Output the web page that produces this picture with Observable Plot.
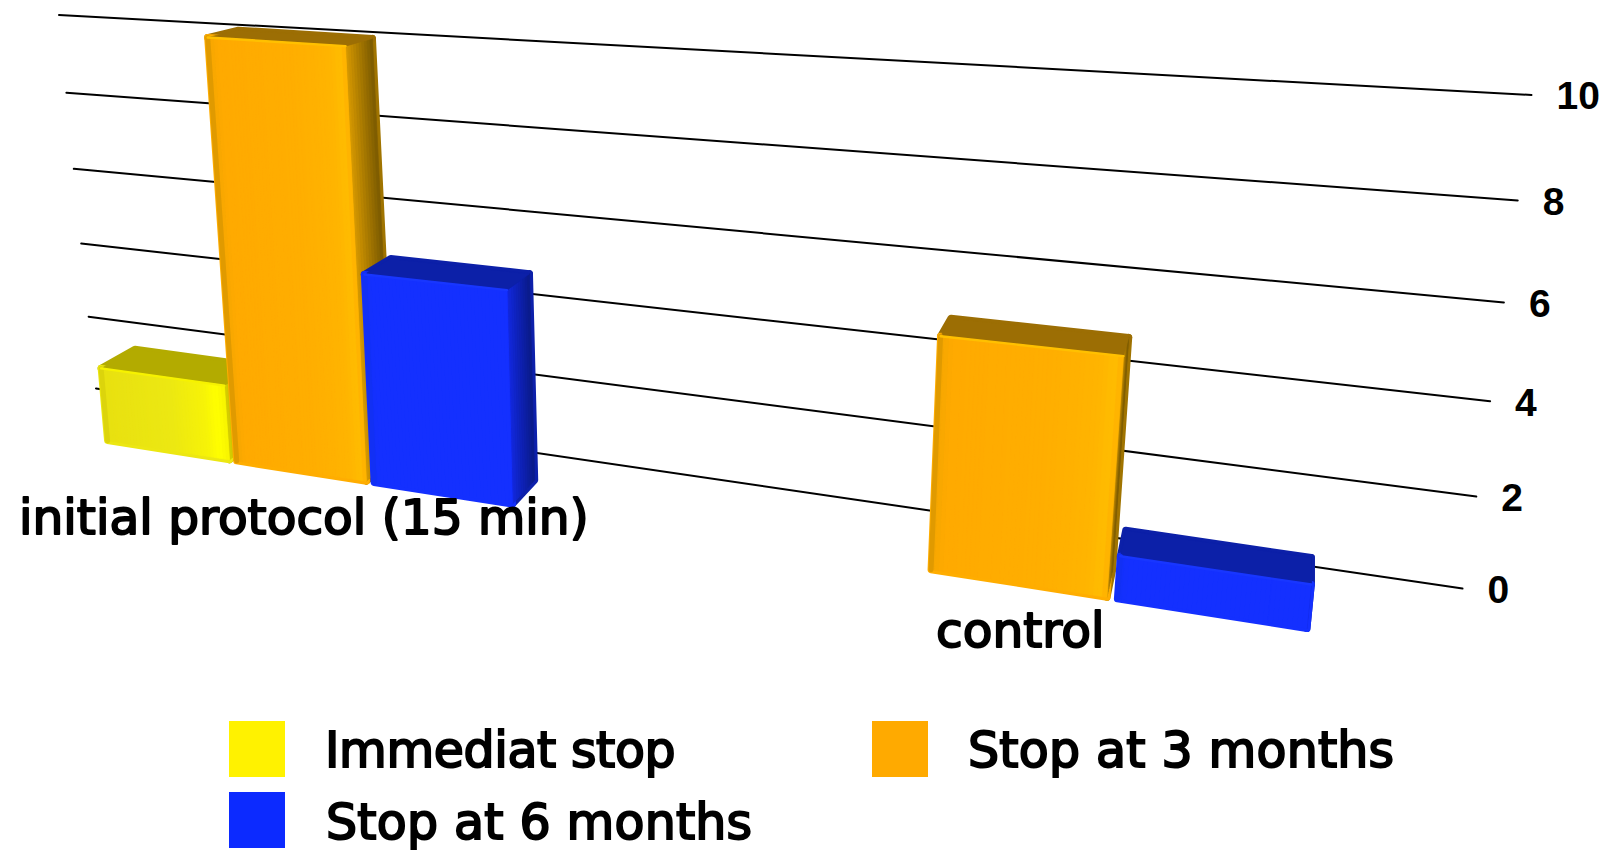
<!DOCTYPE html>
<html>
<head>
<meta charset="utf-8">
<script src="https://cdn.jsdelivr.net/npm/d3@7"></script>
<script src="https://cdn.jsdelivr.net/npm/@observablehq/plot@0.6"></script>
<style>
  html, body { margin: 0; padding: 0; background: #fff; }
  #chart svg { display: block; }
  #legend { position: relative; width: 1611px; height: 142px; font: 49px "DejaVu Sans", sans-serif; letter-spacing: 0.2px; color: #000; -webkit-text-stroke: 2px #000; }
  #legend .swatch { position: absolute; width: 56px; height: 56px; }
  #legend .name { position: absolute; line-height: 56px; white-space: nowrap; }
</style>
</head>
<body>
<div id="chart"></div>
<div id="legend"></div>
<script>
// Values of the clustered bars, one array per series, one entry per group.
const groups = ["initial protocol (15 min)", "control"];
const seriesNames = ["Immediat stop", "Stop at 3 months", "Stop at 6 months"];
const immediatStop = [2.05, null];
const stopAt3Months = [10.85, 5.3];
const stopAt6Months = [5.27, 1.08];
const ticks = [0, 2, 4, 6, 8, 10];

const seriesValues = [immediatStop, stopAt3Months, stopAt6Months];
const groupStart = [0, 4.49];

const W = 1611, H = 710;

// Perspective of the front plane of the bars: a = slot position along the
// category axis, v = value, d = 0 at the front face and 1 at the back face.
const baseX = a => 104 + 125 * a / (1 - 0.03 * a);
const baseY = x => 443.5 + 0.1575 * (x - 107);
function project(a, v, d = 0) {
  const bx = baseX(a);
  const h = v * (38.5 + 0.0085 * (bx - 100));
  let x = bx + (bx - 672) * 0.0001575 * h;
  let y = baseY(bx) - h;
  x += d * (42 - 0.032 * x);
  y -= d * (7 + 0.041 * y);
  return [x, y];
}

// Perspective of the back wall carrying the gridlines.
const wallLeft = v => [95.5 - 3.7 * v, 388 - 35.5 * v - 0.185 * v * v];
const wallRight = v => [1462 + 6.9 * v, 588 - 45.16 * v - 0.419 * v * v];

const palette = [
  {
    front: [[0, "#e8e010"], [0.55, "#ece812"], [0.82, "#f6f208"], [0.93, "#ffff00"], [1, "#f8f400"]],
    top: "#b3ab00", side: ["#d8d000", "#8f8800"], edge: "#f6f200", leftEdge: "#dcd40c"
  },
  {
    front: [[0, "#f4a600"], [0.08, "#ffaa00"], [0.6, "#ffae00"], [0.88, "#ffb400"], [0.96, "#ffbc00"], [1, "#ffb000"]],
    top: "#9c6e04", side: ["#d89a00", "#7a5a00"], edge: "#ffc000", leftEdge: "#e09a00"
  },
  {
    front: [[0, "#1230f8"], [0.05, "#1430ff"], [1, "#1430ff"]],
    top: "#0c20a8", side: ["#1228e0", "#0a1a88"], edge: "#1836ff", leftEdge: "#1230f4"
  }
];

function ramp(stops, t) {
  for (let i = 1; i < stops.length; ++i) {
    if (t <= stops[i][0]) {
      const k = (t - stops[i - 1][0]) / (stops[i][0] - stops[i - 1][0]);
      return d3.interpolateRgb(stops[i - 1][1], stops[i][1])(k);
    }
  }
  return stops[stops.length - 1][1];
}

// One closed polygon as rows for Plot.line, grouped by id.
function polygon(id, color, corners) {
  return [...corners, corners[0]].map(([x, y]) => ({ id, color, x, y }));
}

const colorIdentity = { x: "x", y: "y", z: "id", fill: "color", stroke: "color", strokeLinejoin: "round" };

function edgeLine(p, q, color, width) {
  return Plot.line([p, q].map(([x, y]) => ({ x, y })), {
    x: "x", y: "y", stroke: color, strokeWidth: width, strokeLinecap: "round"
  });
}

function barMarks(g, s) {
  const value = seriesValues[s][g];
  if (value == null) return [];
  const style = palette[s];
  const padA = 0.027, padV = 0.088, padD = 0.13;
  const a0 = groupStart[g] + s + padA, a1 = groupStart[g] + s + 1 - padA;
  const v0 = padV, v1 = value - padV, d1 = 1 - padD;
  const key = `${g}-${s}`;

  const base = [
    ...polygon(`${key}-side`, d3.interpolateRgb(...style.side)(0.6),
      [project(a1, v1), project(a1, v1, d1), project(a1, v0, d1), project(a1, v0)]),
    ...polygon(`${key}-top`, style.top,
      [project(a0, v1), project(a0, v1, d1), project(a1, v1, d1), project(a1, v1)]),
    ...polygon(`${key}-front`, ramp(style.front, 0.5),
      [project(a0, v1), project(a1, v1), project(a1, v0), project(a0, v0)])
  ];

  const bands = [];
  const sideBands = 10;
  for (let i = 0; i < sideBands; ++i) {
    const t0 = i / sideBands, t1 = (i + 1) / sideBands;
    bands.push(...polygon(`${key}-sb${i}`, d3.interpolateRgb(...style.side)((t0 + t1) / 2), [
      project(a1, v1, t1 * d1), project(a1, v0, t1 * d1), project(a1, v0, t0 * d1), project(a1, v1, t0 * d1)
    ]));
  }
  // The top face goes back over the side bands so the side stops at the edge.
  bands.push(...polygon(`${key}-top2`, style.top,
    [project(a0, v1), project(a0, v1, d1), project(a1, v1, d1), project(a1, v1)]));
  const frontBands = 40;
  for (let i = 0; i < frontBands; ++i) {
    const t0 = i / frontBands, t1 = (i + 1) / frontBands;
    const p = t => a0 + (a1 - a0) * t;
    bands.push(...polygon(`${key}-fb${i}`, ramp(style.front, (t0 + t1) / 2), [
      project(p(t0), v1), project(p(t1), v1), project(p(t1), v0), project(p(t0), v0)
    ]));
  }

  return [
    Plot.line(base, { ...colorIdentity, strokeWidth: 7 }),
    Plot.line(bands, { ...colorIdentity, strokeWidth: 0.7 }),
    edgeLine(project(a0, v1), project(a0, v0), style.leftEdge, 5),
    edgeLine(project(a0, v1), project(a1, v1), style.edge, 2.4)
  ];
}

const gridRows = ticks.flatMap(v => [wallLeft(v), wallRight(v)].map(([x, y]) => ({ v, x, y })));
const tickRows = ticks.map(v => {
  const [x, y] = wallRight(v);
  return { label: String(v), x: x + 25, y: y + 2 };
});
const groupRows = groups.map((name, g) => {
  const bx = baseX(groupStart[g] + 1.5);
  return { name, x: bx + 3, y: baseY(bx) + 44 };
});

const bars = groups.flatMap((_, g) => seriesNames.flatMap((_, s) => barMarks(g, s)));

const chart = Plot.plot({
  width: W,
  height: H,
  margin: 0,
  style: { background: "#fff" },
  x: { domain: [0, W], range: [0, W], axis: null },
  y: { domain: [0, H], range: [0, H], axis: null },
  color: { type: "identity" },
  marks: [
    Plot.line(gridRows, { x: "x", y: "y", z: "v", stroke: "#000", strokeWidth: 2 }),
    ...bars,
    Plot.text(tickRows, {
      x: "x", y: "y", text: "label", textAnchor: "start", lineAnchor: "middle",
      fontFamily: "Liberation Sans", fontWeight: "bold", fontSize: 39, fill: "#000"
    }),
    Plot.text(groupRows, {
      x: "x", y: "y", text: "name", textAnchor: "middle", lineAnchor: "middle",
      fontFamily: "DejaVu Sans", fontSize: 48.6, fill: "#000", stroke: "#000", strokeWidth: 2, strokeLinejoin: "round"
    })
  ]
});
document.getElementById("chart").append(chart);

// Legend below the plot, two rows in two columns.
const legendColors = ["#fff200", "#ffaa00", "#0c2aff"];
const legendSlots = [[229, 11, 325, 2, -0.4], [872, 11, 968, 2, 0.2], [229, 82, 326, 3, 0.2]];
const legend = document.getElementById("legend");
seriesNames.forEach((name, i) => {
  const [sx, sy, tx, dy, tracking] = legendSlots[i];
  const swatch = document.createElement("div");
  swatch.className = "swatch";
  swatch.style.cssText = `left:${sx}px;top:${sy}px;background:${legendColors[i]}`;
  const label = document.createElement("div");
  label.className = "name";
  label.style.cssText = `left:${tx}px;top:${sy + dy}px;letter-spacing:${tracking}px`;
  label.textContent = name;
  legend.append(swatch, label);
});
</script>
</body>
</html>
